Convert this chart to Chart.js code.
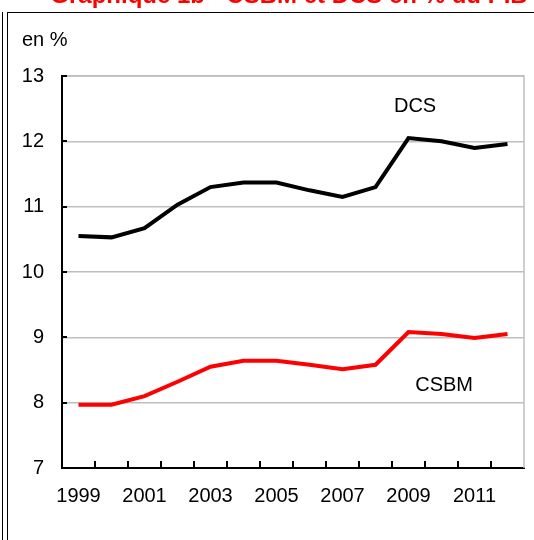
<!DOCTYPE html>
<html>
<head>
<meta charset="utf-8">
<script src="https://cdn.jsdelivr.net/npm/chart.js@4"></script>
<style>
  html, body { margin: 0; padding: 0; background: #fff; }
  #wrap { width: 534px; height: 540px; position: relative; }
</style>
</head>
<body>
<div id="wrap"><canvas id="chart" width="534" height="540"></canvas></div>
<script>
const years = ['1999', '2000', '2001', '2002', '2003', '2004', '2005', '2006', '2007', '2008', '2009', '2010', '2011', '2012'];
const dcs = [10.55, 10.53, 10.67, 11.03, 11.30, 11.37, 11.37, 11.25, 11.15, 11.30, 12.05, 12.00, 11.90, 11.96];
const csbm = [7.97, 7.97, 8.10, 8.32, 8.55, 8.64, 8.64, 8.58, 8.51, 8.58, 9.08, 9.05, 8.99, 9.05];

const FONT = '"Liberation Sans", Arial, sans-serif';

// frame, title, inner ticks and series names
const decor = {
    id: 'decor',
    beforeDraw(chart) {
        const c = chart.ctx;
        c.save();
        c.strokeStyle = '#000';
        c.lineWidth = 1;
        c.beginPath();
        c.moveTo(7, 12.5); c.lineTo(534, 12.5);
        c.moveTo(7.5, 12); c.lineTo(7.5, 540);
        c.moveTo(2.5, 12); c.lineTo(2.5, 540);
        c.stroke();

        c.fillStyle = '#ff0000';
        c.font = 'bold 24px ' + FONT;
        c.textAlign = 'center';
        c.textBaseline = 'alphabetic';
        c.fillText('Graphique 1b - CSBM et DCS en % du PIB', 289, 3);

        c.fillStyle = '#000';
        c.font = '20px ' + FONT;
        c.textAlign = 'left';
        c.textBaseline = 'middle';
        c.fillText('en %', 22, 40);
        c.restore();
    },
    beforeDatasetsDraw(chart) {
        const c = chart.ctx, a = chart.chartArea;
        c.save();
        c.strokeStyle = '#bfbfbf';
        c.lineWidth = 1.5;
        c.beginPath();
        c.moveTo(a.left, a.top); c.lineTo(a.right, a.top); c.lineTo(a.right, a.bottom);
        c.stroke();
        c.restore();
    },
    afterDraw(chart) {
        const c = chart.ctx, a = chart.chartArea;
        const xs = chart.scales.x, ys = chart.scales.y;
        c.save();
        c.strokeStyle = '#000';
        c.lineWidth = 2;
        c.beginPath();
        for (let i = 1; i < years.length; i++) {
            const x = Math.round(xs.getPixelForValue(i - 0.5));
            c.moveTo(x, a.bottom); c.lineTo(x, a.bottom - 7);
        }
        ys.ticks.forEach(t => {
            const y = Math.round(ys.getPixelForValue(t.value));
            c.moveTo(a.left, y); c.lineTo(a.left + 5, y);
        });
        c.stroke();

        c.fillStyle = '#000';
        c.font = '20px ' + FONT;
        c.textAlign = 'center';
        c.textBaseline = 'middle';
        c.fillText('DCS', xs.getPixelForValue(10.2), ys.getPixelForValue(12.54));
        c.fillText('CSBM', xs.getPixelForValue(11.08), ys.getPixelForValue(8.27));
        c.restore();
    }
};

new Chart(document.getElementById('chart'), {
    type: 'line',
    data: {
        labels: years,
        datasets: [
            { label: 'DCS', data: dcs, borderColor: '#000', borderWidth: 4, pointRadius: 0, tension: 0, fill: false },
            { label: 'CSBM', data: csbm, borderColor: '#ff0000', borderWidth: 4, pointRadius: 0, tension: 0, fill: false }
        ]
    },
    options: {
        responsive: false,
        animation: false,
        layout: { padding: { left: 0, top: 76, right: 10, bottom: 0 } },
        plugins: { legend: { display: false }, tooltip: { enabled: false } },
        scales: {
            x: {
                offset: true,
                grid: { display: false },
                border: { color: '#000', width: 2 },
                ticks: {
                    autoSkip: false,
                    maxRotation: 0,
                    padding: 8,
                    color: '#000',
                    font: { family: FONT, size: 20 },
                    callback: (v, i) => (i % 2 === 0 ? years[i] : '')
                },
                afterFit: s => { s.height = 72; }
            },
            y: {
                min: 7,
                max: 13,
                ticks: { stepSize: 1, padding: 18, color: '#000', font: { family: FONT, size: 20 } },
                grid: { color: '#bfbfbf', lineWidth: 1.5, drawTicks: false },
                border: { color: '#000', width: 2 },
                afterFit: s => { s.width = 62; }
            }
        }
    },
    plugins: [decor]
});
</script>
</body>
</html>
